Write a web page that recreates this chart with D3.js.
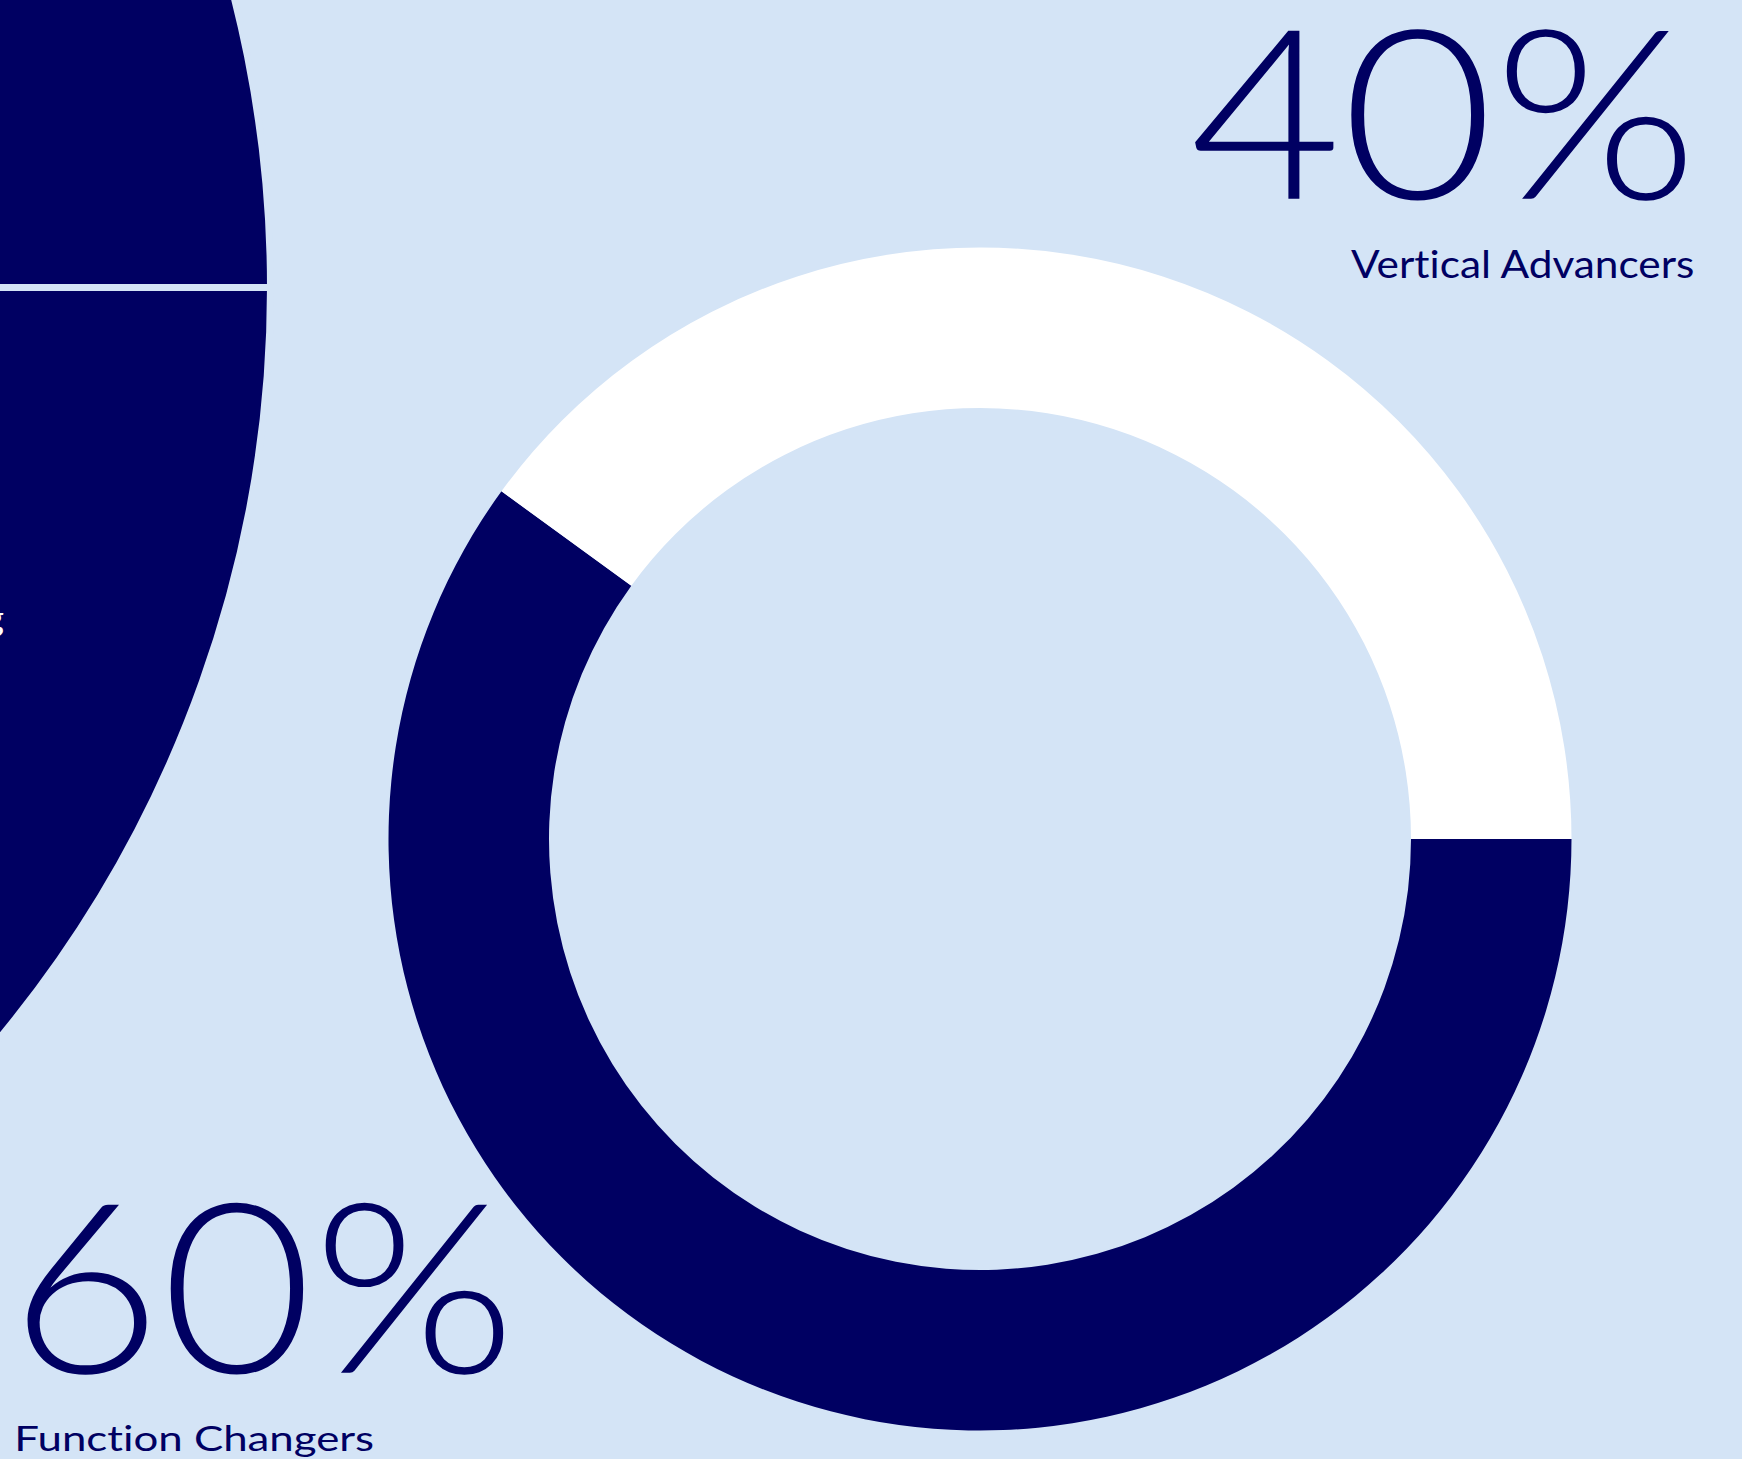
<!DOCTYPE html>
<html>
<head>
<meta charset="utf-8">
<script src="https://cdn.jsdelivr.net/npm/d3@7"></script>
<style>
  html, body { margin: 0; padding: 0; background: #d4e4f6; overflow: hidden; }
  svg { display: block; }
  text { font-variant-ligatures: none; font-feature-settings: "liga" 0, "clig" 0; }
</style>
</head>
<body>
<svg id="chart" width="1742" height="1459"></svg>
<script>
// ---- data ----
const categories = ["Function Changers", "Vertical Advancers"];
const shares = [60, 40];
const shareLabels = ["60%", "40%"];
// partially visible neighbouring chart on the left edge
const leftCategories = ["Moving", "Staying"];
const leftShares = [45, 55];

// ---- styles ----
const BG = "#d4e4f6";
const NAVY = "#000062";
const WHITE = "#ffffff";
const NUM_FAMILY = "Lato, 'Open Sans', 'Noto Sans', sans-serif";
const LABEL_FAMILY = "Lato, 'Open Sans', 'Noto Sans', sans-serif";

const svg = d3.select("#chart");
svg.append("rect").attr("width", 1742).attr("height", 1459).attr("fill", BG);

const pie = d3.pie().sort(null).value(d => d)
  .startAngle(Math.PI / 2).endAngle(Math.PI / 2 + 2 * Math.PI);

// ---- left (cropped) chart ----
const leftColor = d3.scaleOrdinal().domain(leftCategories).range([NAVY, NAVY]);
const leftArc = d3.arc().innerRadius(858).outerRadius(1175.5);
const gLeft = svg.append("g").attr("transform", "translate(-905,287.5)");
gLeft.selectAll("path")
  .data(pie(leftShares))
  .join("path")
  .attr("d", leftArc)
  .attr("fill", (d, i) => leftColor(leftCategories[i]))
  .attr("stroke", BG)
  .attr("stroke-width", 7);

svg.append("text")
  .attr("x", 4).attr("y", 631)
  .attr("text-anchor", "end")
  .attr("fill", WHITE)
  .attr("font-family", LABEL_FAMILY)
  .attr("font-size", 37)
  .text(leftCategories[0]);

// ---- main donut ----
const color = d3.scaleOrdinal().domain(categories).range([NAVY, WHITE]);
const arc = d3.arc().innerRadius(431).outerRadius(591.5);
const g = svg.append("g").attr("transform", "translate(980,839)");
g.selectAll("path")
  .data(pie(shares))
  .join("path")
  .attr("d", arc)
  .attr("fill", (d, i) => color(categories[i]));

// ---- text fitting helper ----
const ctx = document.createElement("canvas").getContext("2d");
function fitText(str, family, weight, refStr, box) {
  ctx.font = `${weight} 200px ${family}`;
  const r = ctx.measureText(refStr);
  const refH = r.actualBoundingBoxAscent + r.actualBoundingBoxDescent;
  const k = (box.bottom - box.top) / refH;
  const fs = 200 * k;
  const baseline = box.top + r.actualBoundingBoxAscent * k;
  const m = ctx.measureText(str);
  const inkW = (m.actualBoundingBoxLeft + m.actualBoundingBoxRight) * k;
  const sx = (box.right - box.left) / inkW;
  const x0 = box.left + m.actualBoundingBoxLeft * k * sx;
  svg.append("text")
    .attr("transform", `translate(${x0},${baseline}) scale(${sx},1)`)
    .attr("font-family", family)
    .attr("font-weight", weight)
    .attr("font-size", fs)
    .attr("fill", NAVY)
    .text(str);
}

// 40% / Vertical Advancers (top right)
fitText(shareLabels[1], NUM_FAMILY, 300, "0", { left: 1195, right: 1685, top: 29.3, bottom: 200 });
fitText(categories[1], LABEL_FAMILY, 400, "V", { left: 1351, right: 1695, top: 250.7, bottom: 278.3 });
// 60% / Function Changers (bottom left)
fitText(shareLabels[0], NUM_FAMILY, 300, "0", { left: 26.7, right: 503.3, top: 1203, bottom: 1374 });
fitText(categories[0], LABEL_FAMILY, 400, "F", { left: 18.3, right: 373.3, top: 1425, bottom: 1450.7 });
</script>
</body>
</html>
